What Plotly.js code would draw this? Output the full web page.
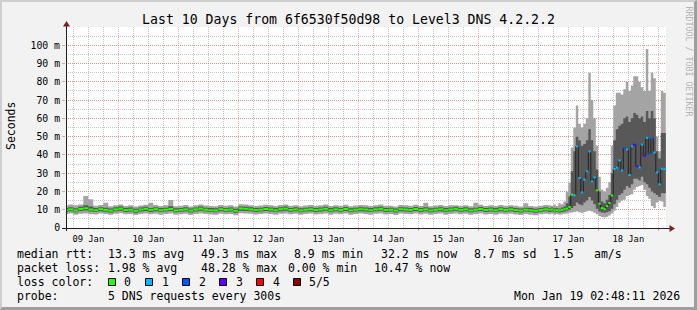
<!DOCTYPE html>
<html><head><meta charset="utf-8">
<script src="https://cdn.plot.ly/plotly-3.0.1.min.js"></script>
<style>
html,body{margin:0;padding:0;background:#f2f2f2;}
#wrap{position:relative;width:697px;height:310px;overflow:hidden;}
#chart{position:absolute;left:0;top:0;width:697px;height:310px;}
#frame{position:absolute;left:0;top:0;width:697px;height:310px;box-sizing:border-box;border-top:2px solid #cfcfcf;border-left:2px solid #cfcfcf;border-right:3px solid #9e9e9e;border-bottom:3px solid #9e9e9e;pointer-events:none;}
</style></head><body>
<div id="wrap"><div id="chart"></div><div id="frame"></div></div>
<script>
// ---------- data (milliseconds) ----------
// Jan 9 02:00 -> Jan 17 02:00, one column every 2 hours
const flatStart = '2026-01-09T02:00:00Z';
const flatStepHours = 2;
const flatMin = [7.6,7.9,7.3,7.8,8.0,7.5,7.4,7.9,7.6,7.2, 7.8,8.1,7.5,7.7,7.1,7.6,7.9,7.5,7.8,7.3,
  7.6,7.9,7.2,7.5,7.8,7.1,7.6,8.0,7.7,7.4, 7.3,7.8,7.5,7.7,7.0,8.1,7.9,7.8,7.4,7.6,
  7.9,7.7,7.3,7.8,8.0,7.5,7.8,7.2,7.6,7.9, 7.4,7.7,8.0,7.3,7.8,7.5,7.9,7.2,7.6,7.9,
  7.7,7.3,7.8,8.0,7.4,7.6,7.1,7.9,7.7,7.5, 7.9,7.4,7.8,7.2,7.6,7.9,7.3,7.7,8.0,7.5,
  7.8,7.2,7.6,7.9,7.4,7.7,7.3,7.8,7.5,7.8, 7.4,7.1,7.6,7.3,7.0,7.5,7.8];
const flatLow = [8.8,9.1,8.6,9.3,9.6,9.0,8.7,9.2,8.9,8.5, 9.1,9.4,8.8,9.0,8.4,9.0,9.3,8.8,9.2,8.7,
  9.0,9.3,8.6,8.9,9.1,8.5,9.0,9.5,9.0,8.7, 8.6,9.2,8.9,9.0,8.4,9.5,9.3,9.1,8.8,9.0,
  9.3,9.0,8.7,9.2,9.5,8.9,9.1,8.6,9.0,9.2, 8.8,9.0,9.4,8.7,9.1,8.9,9.3,8.6,9.0,9.2,
  9.0,8.7,9.1,9.4,8.8,9.0,8.5,9.2,9.0,8.9, 9.3,8.8,9.1,8.6,9.0,9.2,8.7,9.0,9.4,8.9,
  9.1,8.6,9.0,9.3,8.8,9.0,8.7,9.2,8.9,9.1, 8.8,8.5,9.0,8.7,8.4,8.9,9.2];
const flatMedian = [9.8,10.2,9.6,10.4,10.8,10.1,9.7,10.3,9.9,9.5, 10.2,10.6,9.8,10.0,9.4,10.1,10.5,9.9,10.3,9.7,
  10.0,10.4,9.6,9.9,10.2,9.5,10.1,10.6,10.0,9.7, 9.6,10.3,9.9,10.1,9.4,10.7,10.5,10.2,9.8,10.0,
  10.4,10.1,9.7,10.3,10.6,9.9,10.2,9.6,10.0,10.3, 9.8,10.1,10.5,9.7,10.2,9.9,10.4,9.6,10.0,10.3,
  10.1,9.7,10.2,10.5,9.8,10.0,9.5,10.3,10.1,9.9, 10.4,9.8,10.2,9.6,10.0,10.3,9.7,10.1,10.5,9.9,
  10.2,9.6,10.0,10.4,9.8,10.1,9.7,10.3,9.9,10.2, 9.8,9.5,10.0,9.7,9.4,9.9,10.2];
const flatHigh = [11.0,11.3,10.8,11.6,12.4,11.8,10.9,11.4,11.1,10.7, 11.3,11.7,11.0,11.2,10.6,11.2,11.6,11.0,11.4,10.9,
  11.1,11.9,10.8,11.0,11.3,10.7,11.2,11.7,11.1,10.9, 10.8,11.4,11.0,11.2,10.6,11.8,11.6,11.3,11.0,11.1,
  11.5,11.2,10.9,11.4,11.7,11.0,11.3,10.8,11.1,11.4, 11.0,11.2,11.6,10.9,11.3,11.0,11.5,10.8,11.1,11.4,
  11.2,10.9,11.3,11.6,11.0,11.1,10.7,11.4,11.2,11.0, 11.5,11.0,11.3,10.8,11.1,11.4,10.9,11.2,11.6,11.0,
  11.3,10.8,11.1,11.5,11.0,11.2,10.9,11.4,11.0,11.3, 11.0,10.7,11.1,10.9,10.6,11.0,11.4];
const flatMax = [12.3,12.8,12.5,12.9,17.5,15.7,12.2,12.6,13.8,11.9, 12.4,12.8,12.1,12.5,11.8,12.3,12.7,13.8,12.6,12.0,
  12.4,15.3,11.9,12.2,12.6,11.8,12.4,12.9,12.3,12.0, 11.9,12.6,12.2,12.4,11.7,13.0,12.8,12.5,12.1,12.3,
  12.7,12.4,12.0,12.6,12.9,12.2,12.5,11.9,12.3,12.6, 12.2,12.4,12.8,12.0,12.5,12.2,12.7,11.9,12.3,12.6,
  12.4,12.0,12.5,12.9,12.2,12.2,11.8,12.6,12.4,12.2, 12.7,12.1,13.8,11.9,12.3,12.6,12.0,12.4,12.4,12.2,
  12.5,11.9,13.8,12.7,12.1,12.4,12.0,12.6,12.2,12.5, 12.2,11.8,13.5,12.0,11.7,12.2,12.6];
const flatLoss = [0,0,0,0,0,0,0,0,0,0, 0,0,0,0,0,0,0,0,0,0, 0,0,0,0,0,0,0,0,0,0, 0,0,0,0,0,0,0,0,0,0,
  0,0,0,0,0,0,0,0,0,0, 0,0,0,0,0,0,0,0,0,0, 0,0,0,0,0,0,0,0,0,0, 0,0,0,0,0,0,0,0,0,0,
  0,0,0,0,0,0,0,0,0,0, 0,0,0,0,0,0,0];

// Jan 17 04:00 -> Jan 19 02:00, one column every hour
const spikeStart = '2026-01-17T04:00:00Z';
const spikeStepHours = 1;
const spikeMin = [7.5,7.8,7.3,7.6,7.2,7.5,7.8,8.0,8.3,
  8.5,8.8,9.0,8.6,8.2,8.8,9.2,9.5,9.0,8.4,
  7.5,6.5,6.0,5.8,6.2,6.8,8.0,
  9.5,11.5,14.0,15.0,15.5,17.5,18.0,18.5,21.0,22.5,23.0,23.5,21.0,17.5,16.0,12.0,11.0,14.0,15.0,14.5,11.5];
const spikeLow = [8.8,9.0,8.6,8.8,8.5,8.8,9.0,9.5,10.0,
  11.0,12.0,14.0,13.0,12.5,14.0,15.0,17.0,15.0,13.0,
  10.5,9.0,8.5,8.3,8.6,9.2,10.5,
  13.0,15.5,18.0,19.0,21.0,23.0,22.0,24.0,27.0,27.0,26.0,28.0,25.0,24.0,22.0,20.0,19.0,18.0,17.0,19.0,19.0];
const spikeMedian = [10.0,10.2,9.6,9.8,9.5,9.9,10.3,10.6,11.5,
  18.2,17.9,44.7,27.4,19.5,26.4,31.0,41.9,25.5,27.7,
  20.6,13.3,10.9,10.3,12.0,13.7,17.8,
  32.3,33.0,37.0,31.5,43.8,43.0,29.0,44.7,45.6,33.7,33.2,45.6,39.6,49.3,40.6,48.9,41.3,30.4,23.9,32.4,32.2];
const spikeHigh = [11.0,11.2,10.8,11.0,10.6,11.2,11.8,13.5,17.3,
  31.0,42.0,50.0,48.0,45.0,46.0,48.0,54.0,48.0,42.0,
  32.0,20.0,14.5,13.5,15.5,18.0,30.0,
  48.0,54.0,56.0,57.0,60.0,61.0,58.0,60.0,63.0,62.0,60.0,61.0,58.0,64.0,60.0,64.0,60.0,42.0,38.0,52.0,52.0];
const spikeMax = [12.5,12.2,12.8,12.0,13.5,13.0,14.5,20.0,24.8,
  44.0,55.0,67.0,57.0,55.0,57.0,60.0,85.0,70.0,60.0,
  45.0,28.0,21.0,20.0,22.0,25.0,45.0,
  67.0,74.0,74.0,73.0,76.0,80.0,75.0,78.0,83.0,83.0,80.0,77.0,75.0,98.0,75.0,85.0,82.0,50.0,42.0,75.0,74.0];
const spikeLoss = [0,0,0,0,0,0,0,0,0,
  0,1,1,1,1,1,1,1,1,1,
  0,0,0,0,0,0,0,
  1,1,1,1,2,1,1,1,3,3,1,1,3,1,2,2,1,1,1,1,1];

const lossLabels = ['0','1','2','3','4','5/5'];
const lossColors = ['#26ff00','#00b8ff','#0059ff','#5e00ff','#ff0000','#8f0000'];

const yTickVals = [0,10,20,30,40,50,60,70,80,90,100];
const yTickText = ['0','10 m','20 m','30 m','40 m','50 m','60 m','70 m','80 m','90 m','100 m'];

const graphStart = '2026-01-09 03:05:00';
const graphEnd = '2026-01-19 03:05:00';

// ---------- build series ----------
function fmt(ms){ return new Date(ms).toISOString().slice(0,19).replace('T',' '); }
function grid(start, stepH, n){ const t0 = Date.parse(start); const out=[]; for(let i=0;i<n;i++) out.push(t0 + i*stepH*3600000); return out; }
const tMs = grid(flatStart, flatStepHours, flatMedian.length).concat(grid(spikeStart, spikeStepHours, spikeMedian.length));
const tEnd = tMs[tMs.length-1] + spikeStepHours*3600000;
const X = tMs.map(fmt);
const Xext = X.concat([fmt(tEnd)]);
function ext(a){ return a.concat([a[a.length-1]]); }
const pMin = flatMin.concat(spikeMin), pLow = flatLow.concat(spikeLow), pMed = flatMedian.concat(spikeMedian),
      pHigh = flatHigh.concat(spikeHigh), pMax = flatMax.concat(spikeMax), loss = flatLoss.concat(spikeLoss);

const traces = [
  {x:Xext, y:ext(pMin), mode:'lines', line:{width:0, shape:'hv'}, hoverinfo:'skip'},
  {x:Xext, y:ext(pMax), mode:'lines', fill:'tonexty', fillcolor:'#a4a4a4', line:{width:0, shape:'hv'}, hoverinfo:'skip'},
  {x:Xext, y:ext(pLow), mode:'lines', line:{width:0, shape:'hv'}, hoverinfo:'skip'},
  {x:Xext, y:ext(pHigh), mode:'lines', fill:'tonexty', fillcolor:'#585858', line:{width:0, shape:'hv'}, hoverinfo:'skip'},
  {x:Xext, y:ext(pMed), mode:'lines', line:{width:1, shape:'hv', color:'#202020'}, hoverinfo:'skip'}
];
for (let L=0; L<lossColors.length; L++){
  const sx=[], sy=[];
  for (let i=0;i<pMed.length;i++){
    if (loss[i]!==L) continue;
    sx.push(Xext[i], Xext[i+1], null); sy.push(pMed[i], pMed[i], null);
  }
  if (sx.length) traces.push({x:sx, y:sy, mode:'lines', line:{width:2, color:lossColors[L]}, connectgaps:false, hoverinfo:'skip'});
}

// ---------- layout helpers (pixel -> paper) ----------
const L0=66, W=600, B0=228, H=201;
const px = x => (x-L0)/W, py = y => (B0-y)/H;

const shapes = [
  {type:'line', xref:'paper', yref:'paper', x0:px(66.5), x1:px(66.5), y0:py(231), y1:py(25), line:{color:'#1f1f1f', width:1}},
  {type:'line', xref:'paper', yref:'paper', x0:px(62), x1:px(670), y0:py(228.5), y1:py(228.5), line:{color:'#1f1f1f', width:1}},
  {type:'path', xref:'paper', yref:'paper', path:`M${px(66.5)},${py(21)} L${px(63)},${py(26.5)} L${px(70)},${py(26.5)} Z`, fillcolor:'#801f1f', line:{width:0}},
  {type:'path', xref:'paper', yref:'paper', path:`M${px(675)},${py(228.5)} L${px(669.5)},${py(225)} L${px(669.5)},${py(232)} Z`, fillcolor:'#801f1f', line:{width:0}}
];
const boxX = [108.5,145.5,182.5,219.5,256.5,293.5];
const boxTextX = [123,160.5,197.5,234.5,271.5,308];
boxX.forEach((bx,i)=>shapes.push({type:'rect', xref:'paper', yref:'paper', x0:px(bx), x1:px(bx+7), y0:py(285.5), y1:py(278.5), fillcolor:lossColors[i], line:{color:'#000', width:1}}));

const FONT = 'DejaVu Sans Mono, monospace';
const legendLines = [
  {y:254, items:[[16,'median rtt:'],[107,'13.3 ms avg'],[200,'49.3 ms max'],[293,'8.9 ms min'],[380,'32.2 ms now'],[473,'8.7 ms sd'],[551.5,'1.5'],[593,'am/s']]},
  {y:268, items:[[16,'packet loss:'],[107,'1.98 % avg'],[200,'48.28 % max'],[287,'0.00 % min'],[372.5,'10.47 % now']]},
  {y:282, items:[[16,'loss color:']].concat(boxTextX.map((x,i)=>[x, lossLabels[i]]))},
  {y:296, items:[[16,'probe:'],[107,'5 DNS requests every 300s']]}
];
const annotations = [];
legendLines.forEach(l=>l.items.forEach(([x,t])=>annotations.push({xref:'paper', yref:'paper', x:px(x), y:py(l.y), xanchor:'left', yanchor:'middle', text:t, showarrow:false, borderpad:0, font:{family:FONT, size:11.5, color:'#000'}})));
annotations.push({xref:'paper', yref:'paper', x:px(681), y:py(296), xanchor:'right', yanchor:'middle', text:'Mon Jan 19 02:48:11 2026', showarrow:false, borderpad:0, font:{family:FONT, size:11.5, color:'#000'}});
annotations.push({xref:'paper', yref:'paper', x:px(11), y:py(126), xanchor:'center', yanchor:'middle', text:'Seconds', textangle:-90, showarrow:false, borderpad:0, font:{family:FONT, size:11.5, color:'#000'}});
annotations.push({xref:'paper', yref:'paper', x:px(688.5), y:py(61), xanchor:'center', yanchor:'middle', text:'RRDTOOL / TOBI OETIKER', textangle:90, showarrow:false, borderpad:0, font:{family:FONT, size:8.3, color:'#b4b4b4'}});

const layout = {
  width:697, height:310,
  margin:{l:66, r:31, t:27, b:82, pad:0},
  paper_bgcolor:'#f2f2f2', plot_bgcolor:'#ffffff',
  showlegend:false, hovermode:false,
  font:{family:FONT, color:'#000', size:11.5},
  title:{text:'Last 10 Days from 6f6530f50d98 to Level3 DNS 4.2.2.2', font:{family:FONT, size:13.2, color:'#000'}, x:0.5, xref:'container', xanchor:'center', y:1-19/310, yref:'container', yanchor:'middle'},
  xaxis:{type:'date', range:[graphStart, graphEnd], tick0:'2026-01-09', dtick:86400000, tickformat:'%d %b', ticklabelmode:'period',
    showgrid:true, gridcolor:'rgba(222,79,79,0.42)', gridwidth:1, griddash:'1px,1px',
    minor:{tick0:'2026-01-09', dtick:6*3600000, showgrid:true, gridcolor:'rgba(143,143,143,0.5)', gridwidth:1, griddash:'1px,1px'},
    ticks:'outside', ticklen:2, tickcolor:'rgba(222,79,79,0.5)', tickfont:{family:FONT, size:8.8, color:'#000'},
    showline:false, zeroline:false, fixedrange:true},
  yaxis:{range:[0,110], tickmode:'array', tickvals:yTickVals, ticktext:yTickText,
    showgrid:true, gridcolor:'rgba(222,79,79,0.42)', gridwidth:1, griddash:'1px,1px',
    minor:{dtick:5, showgrid:true, gridcolor:'rgba(143,143,143,0.5)', gridwidth:1, griddash:'1px,1px'},
    ticks:'outside', ticklen:3, tickcolor:'rgba(222,79,79,0.5)', tickfont:{family:FONT, size:9.8, color:'#000'},
    showline:false, zeroline:false, fixedrange:true},
  shapes:shapes, annotations:annotations
};
Plotly.newPlot('chart', traces, layout, {staticPlot:true, displayModeBar:false});
</script></body></html>
